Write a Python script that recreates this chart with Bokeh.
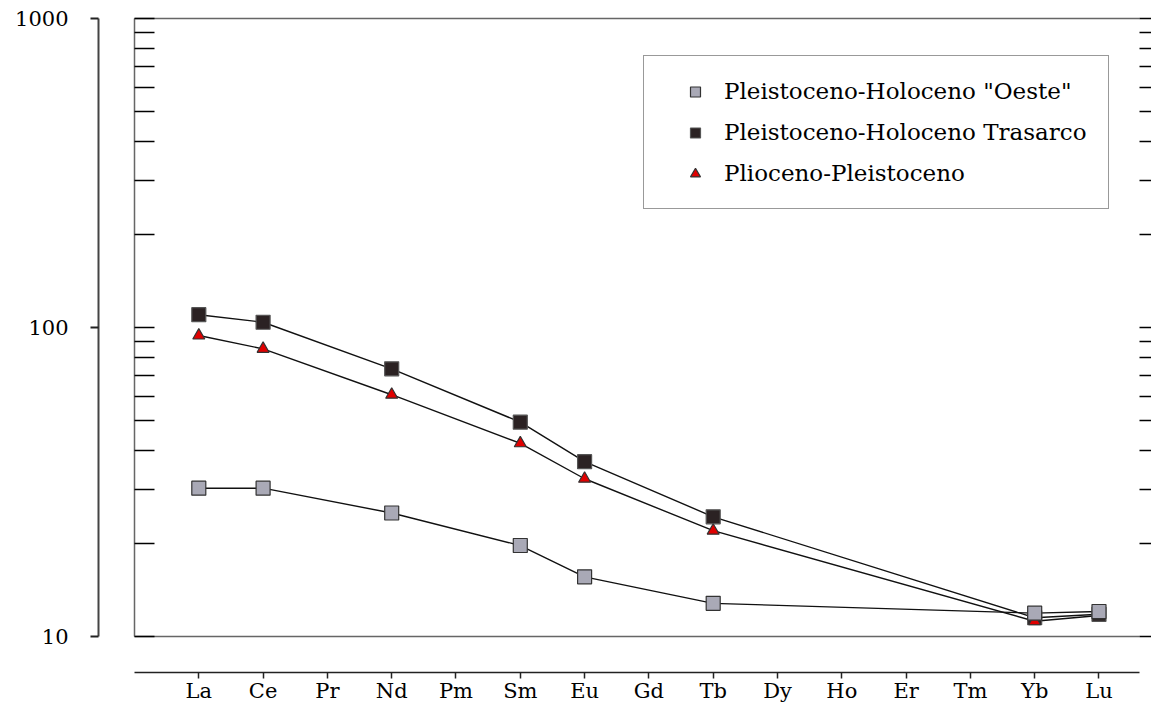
from bokeh.plotting import figure
from bokeh.models import LinearAxis, LogAxis, FixedTicker, Range1d, Legend, LegendItem, CustomJSTickFormatter
from bokeh.embed import file_html
from bokeh.resources import INLINE

elements = ["La", "Ce", "Pr", "Nd", "Pm", "Sm", "Eu", "Gd", "Tb", "Dy", "Ho", "Er", "Tm", "Yb", "Lu"]
oeste = [30.2, 30.2, None, 25.1, None, 19.7, 15.6, None, 12.8, None, None, None, None, 11.9, 12.05]
trasarco = [110, 104, None, 73.5, None, 49.4, 36.8, None, 24.4, None, None, None, None, 11.5, 11.8]
plioceno = [94.2, 85.3, None, 60.6, None, 42.2, 32.4, None, 22.0, None, None, None, None, 11.2, 11.7]
y_major = [10, 100, 1000]
y_major_labels = ["10", "100", "1000"]
y_minor = [20, 30, 40, 50, 60, 70, 80, 90, 200, 300, 400, 500, 600, 700, 800, 900]

FONT = "DejaVu Serif"

p = figure(width=1151, height=723, y_axis_type="log",
           x_range=Range1d(0, 15.63), y_range=Range1d(10, 1000),
           output_backend="svg", toolbar_location=None,
           x_axis_location=None, y_axis_location=None,
           min_border_left=134, min_border_right=11, min_border_top=18, min_border_bottom=87)
p.outline_line_color = None
p.xgrid.visible = False
p.ygrid.visible = False
p.background_fill_color = "white"
p.border_fill_color = "white"

empty = CustomJSTickFormatter(code="return ''")

# inner left axis (frame line + inward ticks); blank axis label acts as spacer
ax_in = LogAxis(ticker=FixedTicker(ticks=y_major, minor_ticks=y_minor), formatter=empty,
                major_tick_in=20, major_tick_out=0, minor_tick_in=20, minor_tick_out=0,
                axis_line_color="#666666", axis_line_width=1.5,
                major_tick_line_color="black", minor_tick_line_color="black",
                major_tick_line_width=1.5, minor_tick_line_width=1.5,
                axis_label=" ", axis_label_text_font_size="10px", axis_label_standoff=22)
p.add_layout(ax_in, "left")

# outer left axis with labels
ax_out = LogAxis(ticker=FixedTicker(ticks=y_major),
                 major_label_overrides={v: s for v, s in zip(y_major, y_major_labels)},
                 major_tick_in=0, major_tick_out=8, minor_tick_in=0, minor_tick_out=0,
                 axis_line_color="#444444", axis_line_width=2,
                 major_tick_line_color="#222222", major_tick_line_width=2,
                 major_label_text_font=FONT, major_label_text_font_size="21px",
                 major_label_text_color="black", major_label_standoff=22)
p.add_layout(ax_out, "left")

# right ticks
ax_r = LogAxis(ticker=FixedTicker(ticks=y_major, minor_ticks=y_minor), formatter=empty,
               major_tick_in=0, major_tick_out=12, minor_tick_in=0, minor_tick_out=12,
               axis_line_color=None,
               major_tick_line_color="black", minor_tick_line_color="black",
               major_tick_line_width=1.5, minor_tick_line_width=1.5)
p.add_layout(ax_r, "right")

# top frame line
ax_top = LinearAxis(ticker=FixedTicker(ticks=[]), axis_line_color="#666666", axis_line_width=1.5,
                    major_tick_in=0, major_tick_out=0, minor_tick_in=0, minor_tick_out=0)
p.add_layout(ax_top, "above")

# bottom frame line + spacer
ax_sp = LinearAxis(ticker=FixedTicker(ticks=[]), formatter=empty,
                   axis_line_color="#666666", axis_line_width=1.5,
                   major_tick_in=0, major_tick_out=0, minor_tick_in=0, minor_tick_out=0,
                   axis_label=" ", axis_label_text_font_size="10px", axis_label_standoff=22)
p.add_layout(ax_sp, "below")

# category axis
xs_idx = list(range(1, len(elements) + 1))
ax_x = LinearAxis(ticker=FixedTicker(ticks=xs_idx),
                  major_label_overrides={i: e for i, e in zip(xs_idx, elements)},
                  major_tick_in=0, major_tick_out=6, minor_tick_in=0, minor_tick_out=0,
                  axis_line_color="#222222", axis_line_width=1.5,
                  major_tick_line_color="#222222", major_tick_line_width=1.5,
                  major_label_text_font=FONT, major_label_text_font_size="21px",
                  major_label_text_color="black", major_label_standoff=0)
p.add_layout(ax_x, "below")


def pts(vals):
    xx, yy = [], []
    for i, v in zip(xs_idx, vals):
        if v is not None:
            xx.append(i)
            yy.append(v)
    return xx, yy


x2, y2 = pts(trasarco)
x3, y3 = pts(plioceno)
x1, y1 = pts(oeste)

p.line(x2, y2, line_color="#111111", line_width=1.4)
p.line(x3, y3, line_color="#111111", line_width=1.4)
p.line(x1, y1, line_color="#111111", line_width=1.4)

r2 = p.scatter(x2, y2, marker="square", size=14, fill_color="#2b2223", line_color="#555555", line_width=1.2)
r3 = p.scatter(x3, y3, marker="triangle", size=12, fill_color="#e00000", line_color="#333333", line_width=1.2)
r1 = p.scatter(x1, y1, marker="square", size=14, fill_color="#a9a9b6", line_color="#333333", line_width=1.2)

legend = Legend(items=[
    LegendItem(label='Pleistoceno-Holoceno "Oeste"', renderers=[r1]),
    LegendItem(label="Pleistoceno-Holoceno Trasarco", renderers=[r2]),
    LegendItem(label="Plioceno-Pleistoceno", renderers=[r3]),
], location=(509, 427))
legend.border_line_color = "#333333"
legend.border_line_width = 1.5
legend.background_fill_color = "white"
legend.background_fill_alpha = 1
legend.label_text_font = FONT
legend.label_text_font_size = "23px"
legend.label_text_color = "black"
legend.glyph_width = 58
legend.glyph_height = 25
legend.label_height = 25
legend.spacing = 15
legend.padding = 22
legend.label_standoff = 0
legend.margin = 0
p.add_layout(legend)

open("out.html", "w").write(file_html(p, INLINE))
